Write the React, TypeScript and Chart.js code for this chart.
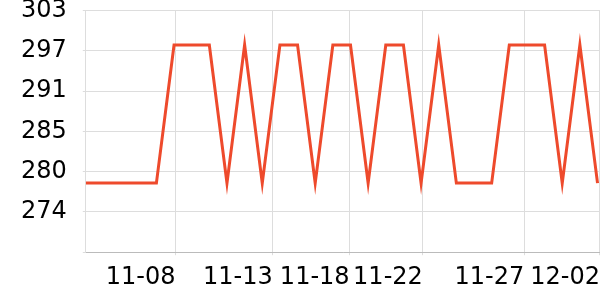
import React, { useEffect, useRef } from "react";
import { Chart, registerables } from "chart.js";

Chart.register(...registerables);

// 30 daily readings (index positions along x)
const values = [
  278, 278, 278, 278, 278, 298, 298, 298, 278, 298,
  278, 298, 298, 278, 298, 298, 278, 298, 298, 278,
  298, 278, 278, 278, 298, 298, 298, 278, 298, 278,
];

const xTickLabels = ["11-08", "11-13", "11-18", "11-22", "11-27", "12-02"];
const xTickPositions = [5.08, 10.59, 14.95, 19.1, 24.85, 29.14];
const xMax = 29.25;

const yMin = 268;
const yMax = 303;
const yTickLabels = ["303", "297", "291", "285", "280", "274", ""];

const FONT = "'DejaVu Sans', sans-serif";

export default function App() {
  const ref = useRef<HTMLCanvasElement>(null);

  useEffect(() => {
    document.body.style.margin = "0";
    const ctx = ref.current!.getContext("2d")!;
    const step = (yMax - yMin) / (yTickLabels.length - 1);
    const chart = new Chart(ctx, {
      type: "line",
      data: {
        datasets: [
          {
            data: values.map((v, i) => ({ x: i, y: v })),
            borderColor: "#ee4a2c",
            borderWidth: 3,
            pointRadius: 0,
            tension: 0,
            fill: false,
          },
        ],
      },
      options: {
        animation: false,
        responsive: false,
        maintainAspectRatio: false,
        layout: { padding: { left: 5, right: 0, top: 0, bottom: 0 } },
        plugins: { legend: { display: false }, tooltip: { enabled: false } },
        scales: {
          x: {
            type: "linear",
            min: 0,
            max: xMax,
            afterBuildTicks: (scale: any) => {
              scale.ticks = xTickPositions.map((v) => ({ value: v }));
            },
            grid: { color: "#dddddd", tickLength: 3, drawTicks: true },
            border: { color: "#bbbbbb" },
            ticks: {
              autoSkip: false,
              maxRotation: 0,
              align: "end",
              padding: 8,
              color: "#000",
              font: { family: FONT, size: 24 },
              callback: (_v: any, i: number) => xTickLabels[i],
            },
          },
          y: {
            min: yMin,
            max: yMax,
            afterBuildTicks: (scale: any) => {
              scale.ticks = yTickLabels.map((_, i) => ({ value: yMax - i * step }));
            },
            grid: { color: "#dddddd", tickLength: 3 },
            border: { color: "#dddddd" },
            ticks: {
              autoSkip: false,
              padding: 16,
              color: "#000",
              font: { family: FONT, size: 24 },
              callback: (_v: any, i: number) => yTickLabels[i],
            },
          },
        },
      },
    });
    return () => chart.destroy();
  }, []);

  return (
    <div style={{ position: "fixed", left: 0, top: 0, width: 600, height: 300, overflow: "hidden" }}>
      <canvas
        ref={ref}
        width={608}
        height={320}
        style={{ position: "absolute", left: 0, top: -20, width: 608, height: 320 }}
      />
    </div>
  );
}
